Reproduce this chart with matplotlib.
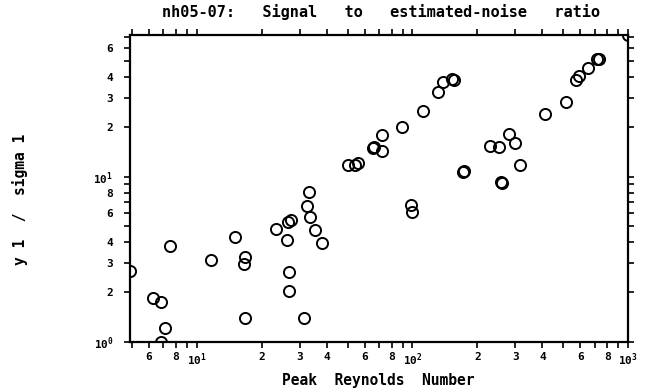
import numpy as np
import matplotlib
matplotlib.use('Agg')
import matplotlib.pyplot as plt
from matplotlib.ticker import LogLocator, FuncFormatter

# peak Reynolds number and signal / estimated-noise for each run
reynolds = [4.9, 6.3, 6.8, 7.15, 6.85, 7.5, 11.6, 15.0, 16.5, 16.8,
            16.7, 23.3, 26.3, 26.5, 27.2, 26.7, 26.7, 31.4, 33.0, 32.4,
            33.4, 35.3, 38.0, 50.0, 54.4, 55.8, 65.4, 66.1, 72.6, 72.6,
            89.6, 98.2, 99.3, 112, 131, 138, 153, 155, 171, 173,
            229, 252, 281, 298, 314, 256, 259, 411, 515, 574,
            593, 648, 720, 735, 1000]
snr = [2.67, 1.85, 1.73, 1.22, 1.0, 3.78, 3.14, 4.31, 2.96, 3.28,
       1.40, 4.85, 4.15, 5.32, 5.44, 2.65, 2.04, 1.40, 8.03, 6.65,
       5.70, 4.73, 3.98, 11.7, 11.7, 12.1, 14.8, 15.0, 14.3, 17.8,
       20.0, 6.72, 6.12, 24.9, 32.5, 37.1, 38.9, 38.5, 10.6, 10.8,
       15.4, 15.1, 18.1, 16.0, 11.8, 9.3, 9.1, 23.8, 28.3, 38.5,
       40.7, 45.4, 51.5, 51.5, 72]

title = 'nh05-07:   Signal   to   estimated-noise   ratio'
xlabel = 'Peak  Reynolds  Number'
ylabel = 'y 1  /  sigma 1'
labelled = [2, 3, 4, 6, 8]

plt.rcParams['font.family'] = 'DejaVu Sans Mono'
plt.rcParams['font.weight'] = 'bold'
plt.rcParams['mathtext.fontset'] = 'custom'
plt.rcParams['mathtext.rm'] = 'DejaVu Sans Mono:bold'
plt.rcParams['mathtext.bf'] = 'DejaVu Sans Mono:bold'


def logLabel(v, pos):
  """Label decades as 10^k and only some of the in-between values."""
  k = int(np.floor(np.log10(v) + 1e-9))
  m = v / 10**k
  if abs(m - 1) < 1e-6:
    return r'$\mathbf{10^{%d}}$' % k
  if int(round(m)) in labelled and abs(m - round(m)) < 1e-6:
    return '%d' % round(m)
  return ''


fig = plt.figure(figsize=(6.53, 3.92), dpi=100)
ax = fig.add_axes([0.199, 0.128, 0.763, 0.783])

ax.plot(reynolds, snr, 'o', mfc='none', mec='black', ms=8, mew=1.4)

ax.set_xscale('log')
ax.set_yscale('log')
ax.set_xlim(4.9, 1000)
ax.set_ylim(1, 72)

for axis in (ax.xaxis, ax.yaxis):
  axis.set_major_locator(LogLocator(base=10))
  axis.set_minor_locator(LogLocator(base=10, subs=np.arange(2, 10)))
  axis.set_major_formatter(FuncFormatter(logLabel))
  axis.set_minor_formatter(FuncFormatter(logLabel))

ax.tick_params(which='both', direction='out', length=4, width=1.2,
               top=True, right=True, labelsize=8)
ax.tick_params(axis='x', which='both', pad=3)
ax.tick_params(axis='y', which='both', pad=8)
for s in ax.spines.values():
  s.set_linewidth(1.6)

# titles placed on the figure so ticks and superscripts don't push them around
fig.text(0.583, 0.97, title, ha='center', va='center',
         fontsize=11, fontweight='bold')
fig.text(0.58, 0.03, xlabel, ha='center', va='center',
         fontsize=10.5, fontweight='bold')
fig.text(0.031, 0.492, ylabel, rotation=90, ha='center', va='center',
         fontsize=10.5, fontweight='bold')

fig.savefig('out.png', dpi=100)
